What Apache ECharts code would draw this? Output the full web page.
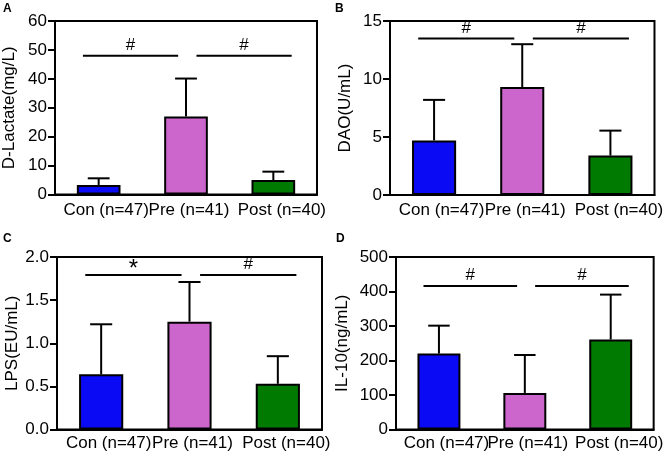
<!DOCTYPE html>
<html>
<head>
<meta charset="utf-8">
<script src="https://cdn.jsdelivr.net/npm/echarts@6/dist/echarts.min.js"></script>
<style>html,body{margin:0;padding:0;background:#fff;}#c{width:666px;height:456px;}</style>
</head>
<body>
<div id="c"></div>
<script>
const categories = ['Con (n=47)', 'Pre (n=41)', 'Post (n=40)'];
const barColors = ['#0A0AF5', '#CC66CC', '#007A00'];

const dLactateMean = [3.3, 27.0, 5.0];
const dLactateSD = [2.3, 13.1, 2.9];
const daoMean = [4.7, 9.3, 3.4];
const daoSD = [3.5, 3.7, 2.15];
const lpsMean = [0.64, 1.25, 0.53];
const lpsSD = [0.58, 0.46, 0.32];
const il10Mean = [220, 106, 261];
const il10SD = [81, 110, 130];

const panelLetters = ['A', 'B', 'C', 'D'];
const yNames = ['D-Lactate(mg/L)', 'DAO(U/mL)', 'LPS(EU/mL)', 'IL-10(ng/mL)'];
const yMax = [60, 15, 2, 500];
const yInterval = [10, 5, 0.5, 100];
const bracketLevels = [48, 13.5, 1.79, 416];
const bracketMarks = [['#', '#'], ['#', '#'], ['*', '#'], ['#', '#']];

const means = [dLactateMean, daoMean, lpsMean, il10Mean];
const sds = [dLactateSD, daoSD, lpsSD, il10SD];

const FONT = 'Liberation Sans, Arial, sans-serif';
const grids = [
  {left: 55, top: 21, width: 262, height: 173.5},
  {left: 390, top: 21, width: 265, height: 174},
  {left: 57, top: 257, width: 265, height: 172.5},
  {left: 396, top: 257, width: 260, height: 172.5}
];
const nameGaps = [37, 36, 36, 45];
const labelMargins = [7, 7, 5, 5];
const labelShift = [15, 6, 17];
const letterPos = [[3, 3], [335, 3], [3, 233], [336, 233]];

const chart = echarts.init(document.getElementById('c'), null, {renderer: 'canvas'});

const option = {
  animation: false,
  backgroundColor: '#fff',
  grid: grids.map(g => Object.assign({show: true, borderColor: '#000', borderWidth: 2, backgroundColor: 'transparent'}, g)),
  xAxis: grids.map((g, i) => ({
    type: 'category', gridIndex: i,
    data: categories.map((c, k) => ({value: c, textStyle: {padding: [0, 0, 0, labelShift[k]]}})),
    axisLine: {lineStyle: {color: '#000', width: 2}},
    axisTick: {alignWithLabel: true, length: 5, lineStyle: {color: '#000', width: 2}},
    axisLabel: {interval: 0, color: '#000', fontSize: 17, fontFamily: FONT, margin: labelMargins[i]}
  })),
  yAxis: grids.map((g, i) => ({
    type: 'value', gridIndex: i, min: 0, max: yMax[i], interval: yInterval[i],
    name: yNames[i], nameLocation: 'middle', nameGap: nameGaps[i],
    nameTextStyle: {color: '#000', fontSize: 17, fontFamily: FONT},
    axisLine: {show: true, lineStyle: {color: '#000', width: 2}},
    axisTick: {show: true, length: 7, lineStyle: {color: '#000', width: 2}},
    splitLine: {show: false},
    axisLabel: {color: '#000', fontSize: 17, fontFamily: FONT, margin: 8,
      formatter: v => (i === 2 ? v.toFixed(1) : String(v))}
  })),
  graphic: panelLetters.map((t, i) => ({
    type: 'text', left: letterPos[i][0], top: letterPos[i][1],
    style: {text: t, fontSize: 12, fontWeight: 'bold', fill: '#000', fontFamily: FONT}
  })),
  series: []
};

for (let i = 0; i < 4; i++) {
  option.series.push({
    type: 'bar', xAxisIndex: i, yAxisIndex: i, barWidth: '50%',
    data: means[i].map((v, k) => ({value: v, itemStyle: {color: barColors[k]}})),
    itemStyle: {borderColor: '#000', borderWidth: 2}, z: 2
  });
  option.series.push({
    type: 'custom', xAxisIndex: i, yAxisIndex: i, z: 3,
    data: means[i].map((v, k) => [k, v, v + sds[i][k]]),
    renderItem: function (params, api) {
      const x = api.value(0), m = api.value(1), t = api.value(2);
      const p0 = api.coord([x, m]);
      const p1 = api.coord([x, t]);
      const half = api.size([1, 0])[0] * 0.125;
      return {type: 'group', children: [
        {type: 'line', shape: {x1: p0[0], y1: p0[1], x2: p1[0], y2: p1[1]}, style: {stroke: '#000', lineWidth: 2}},
        {type: 'line', shape: {x1: p1[0] - half, y1: p1[1], x2: p1[0] + half, y2: p1[1]}, style: {stroke: '#000', lineWidth: 2}}
      ]};
    }
  });
  const marks = bracketMarks[i];
  option.series.push({
    type: 'custom', xAxisIndex: i, yAxisIndex: i, z: 3,
    data: [[0, bracketLevels[i]]],
    renderItem: function (params, api) {
      const c = api.coord([0, api.value(1)]);
      const band = api.size([1, 0])[0];
      const spans = [[-0.18, 0.91], [1.12, 2.21]];
      const children = [];
      spans.forEach((s, j) => {
        const xa = c[0] + s[0] * band, xb = c[0] + s[1] * band;
        const star = marks[j] === '*';
        children.push({type: 'line', shape: {x1: xa, y1: c[1], x2: xb, y2: c[1]}, style: {stroke: '#000', lineWidth: 2}});
        children.push({type: 'text', style: {text: marks[j], x: (xa + xb) / 2, y: c[1] - (star ? -6 : 2),
          align: 'center', verticalAlign: 'bottom', fontSize: star ? 24 : 17, fill: '#000', fontFamily: FONT}});
      });
      return {type: 'group', children: children};
    }
  });
}

chart.setOption(option);
</script>
</body>
</html>
